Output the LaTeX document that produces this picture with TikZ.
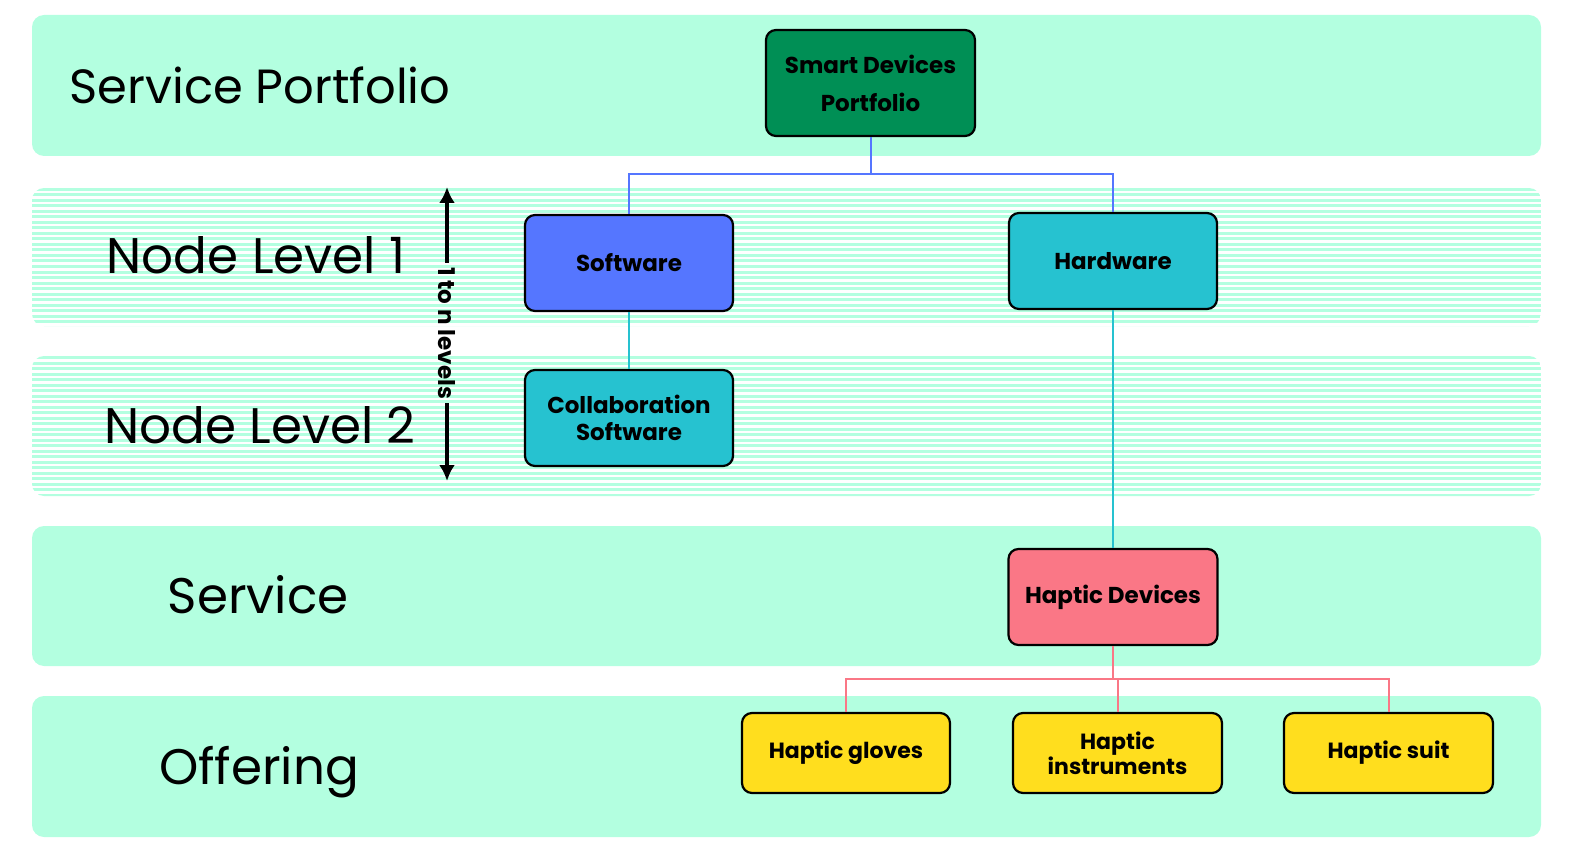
\documentclass[tikz,border=0pt]{standalone}
\usepackage{fontspec}
\setmainfont{Poppins}
\usetikzlibrary{arrows.meta}
\definecolor{mint}{RGB}{179,255,224}
\definecolor{darkgreen}{RGB}{0,143,85}
\definecolor{softblue}{RGB}{85,118,255}
\definecolor{tealc}{RGB}{38,194,208}
\definecolor{pinkc}{RGB}{250,119,134}
\definecolor{yellowc}{RGB}{255,222,30}
\tikzset{
  box/.style={draw=black, line width=2.2pt, rounded corners=10pt, minimum width=208pt, minimum height=96pt, align=center, inner sep=0pt, font=\fontsize{23}{30}\selectfont\bfseries},
  offerbox/.style={box, minimum height=80pt, font=\fontsize{22}{25}\selectfont\bfseries},
  bandlabel/.style={font=\fontsize{50}{56}\selectfont, inner sep=0pt},
  conn/.style={line width=2pt},
  levelarrow/.style={line width=3.8pt, -{Latex[length=16pt,width=16pt]}},
}
\begin{document}
\begin{tikzpicture}[x=1pt,y=-1pt]
\useasboundingbox (0,0) rectangle (1588,853);
% solid bands
\fill[mint, rounded corners=12pt] (32,15) rectangle (1541,156);
\fill[mint, rounded corners=12pt] (32,526) rectangle (1541,666);
\fill[mint, rounded corners=12pt] (32,696) rectangle (1541,837);
% striped bands
\begin{scope}
\clip[rounded corners=12pt] (32,188) rectangle (1541,326);
\foreach \y in {188,193.5,...,326} \fill[mint] (32,\y) rectangle (1541,\y+3);
\end{scope}
\begin{scope}
\clip[rounded corners=12pt] (32,356) rectangle (1541,496);
\foreach \y in {356,361.5,...,496} \fill[mint] (32,\y) rectangle (1541,\y+3);
\end{scope}
% band labels
\node[bandlabel, font=\fontsize{48}{54}\selectfont] (lsp) at (260,85) {Service Portfolio};
\node[bandlabel] (lnl1) at (256,255) {Node Level 1};
\node[bandlabel] (lnl2) at (260,425) {Node Level 2};
\node[bandlabel] (lsv) at (258,595) {Service};
\node[bandlabel] (lof) at (259,772) {Offering};
% level arrow
\node[rotate=-90, font=\fontsize{23}{25}\selectfont\bfseries, inner sep=4pt] (levels) at (447,333) {1 to n levels};
\coordinate (uptip) at (447,187);
\coordinate (dntip) at (447,481);
\draw[levelarrow] (levels.west) -- (uptip);
\draw[levelarrow] (levels.east) -- (dntip);
% nodes
\node[box, fill=darkgreen, minimum width=209pt, minimum height=106pt, font=\fontsize{23}{38}\selectfont\bfseries] (smart) at (870.5,83) {Smart Devices\\Portfolio};
\node[box, fill=softblue] (soft) at (629,263) {Software};
\node[box, fill=tealc] (hard) at (1113,261) {Hardware};
\node[box, fill=tealc, font=\fontsize{23}{27}\selectfont\bfseries] (collab) at (629,418) {Collaboration\\Software};
\node[box, fill=pinkc, minimum width=209pt] (haptic) at (1113,597) {Haptic Devices};
\node[offerbox, fill=yellowc] (gloves) at (846,753) {Haptic gloves};
\node[offerbox, fill=yellowc, minimum width=209pt] (instr) at (1117.5,753) {Haptic\\instruments};
\node[offerbox, fill=yellowc, minimum width=209pt] (suit) at (1388.5,753) {Haptic suit};
% connectors
\coordinate (bj) at (870.5,174);
\draw[conn, softblue] (smart.south) -- (bj) -| (soft.north);
\draw[conn, softblue] (bj) -| (hard.north);
\draw[conn, tealc] (soft.south) -- (collab.north);
\draw[conn, tealc] (hard.south) -- (haptic.north);
\coordinate (pj) at (1113,679);
\draw[conn, pinkc] (haptic.south) -- (pj) -| (gloves.north);
\draw[conn, pinkc] (pj) -| (instr.north);
\draw[conn, pinkc] (pj) -| (suit.north);
\end{tikzpicture}
\end{document}
